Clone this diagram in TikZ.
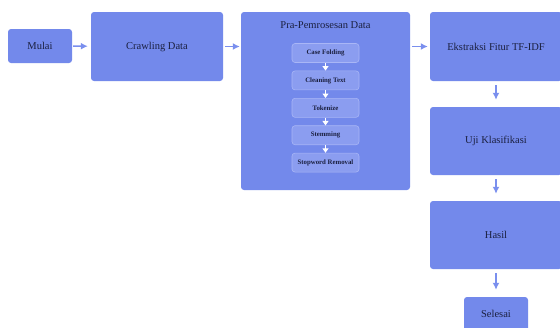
\documentclass[tikz,border=0pt]{standalone}
\usepackage{fontspec}
\setmainfont{Liberation Serif}
\usepackage{xcolor}
\usetikzlibrary{arrows.meta}

\definecolor{boxblue}{HTML}{7389EB}
\definecolor{stepblue}{HTML}{8B9DF0}
\definecolor{stepline}{HTML}{A9B6F6}
\definecolor{linkblue}{HTML}{7A8FEE}
\definecolor{txtdark}{HTML}{1B2040}

\begin{document}
\begin{tikzpicture}[x=1pt, y=-1pt,
        blok/.style={fill=boxblue, rounded corners=3pt, text=txtdark, font=\fontsize{10.5}{12}\selectfont, inner sep=0pt},
        langkah/.style={fill=stepblue, draw=stepline, line width=0.6pt, rounded corners=3pt, text=txtdark,
            font=\fontsize{6.8}{8}\selectfont\bfseries, minimum width=67pt, minimum height=19pt, inner sep=0pt},
        link/.style={draw=linkblue, line width=1.4pt, -{Latex[length=7pt,width=7pt]}},
        panah/.style={draw=white, line width=1pt, -{Triangle[length=4.5pt,width=6pt]}}]
    \useasboundingbox (0,0) rectangle (560,327);

    % top row
    \node[blok, minimum width=64pt, minimum height=34pt] (mulai) at (40,46) {Mulai};
    \node[blok, minimum width=132pt, minimum height=69pt] (crawl) at (157,46.5) {Crawling Data};
    \node[blok, minimum width=169pt, minimum height=178pt] (pra) at (325.5,101) {};
    \node[text=txtdark, font=\fontsize{10.5}{12}\selectfont] (judul) at (325.5,25) {Pra-Pemrosesan Data};
    \node[blok, minimum width=132pt, minimum height=69pt] (fitur) at (496,46.5) {Ekstraksi Fitur TF-IDF};

    % steps inside the preprocessing box
    \foreach \i/\t in {0/Case Folding, 1/Cleaning Text, 2/Tokenize, 3/Stemming, 4/Stopword Removal} {
        \node[langkah] (step\i) at (325.5,{53+27.4*\i}) {\t};
    }
    \foreach \i [count=\j from 1] in {0,...,3} {
        \draw[panah] (step\i.south) -- (step\j.north);
    }

    % right column
    \node[blok, minimum width=132pt, minimum height=68pt] (uji) at (496,141) {Uji Klasifikasi};
    \node[blok, minimum width=132pt, minimum height=68pt] (hasil) at (496,235) {Hasil};
    \node[blok, minimum width=64pt, minimum height=34pt] (selesai) at (496,314) {Selesai};

    % connectors
    \draw[link, shorten <=1pt, shorten >=3pt] (mulai) -- (crawl);
    \draw[link, shorten <=2pt, shorten >=1pt] (crawl) -- (crawl -| pra.west);
    \draw[link, shorten <=2pt, shorten >=2pt] (pra.east |- fitur) -- (fitur);
    \draw[link, shorten <=4pt, shorten >=7pt] (fitur) -- (uji);
    \draw[link, shorten <=4pt, shorten >=7pt] (uji) -- (hasil);
    \draw[link, shorten <=4pt, shorten >=7pt] (hasil) -- (selesai);
\end{tikzpicture}
\end{document}
